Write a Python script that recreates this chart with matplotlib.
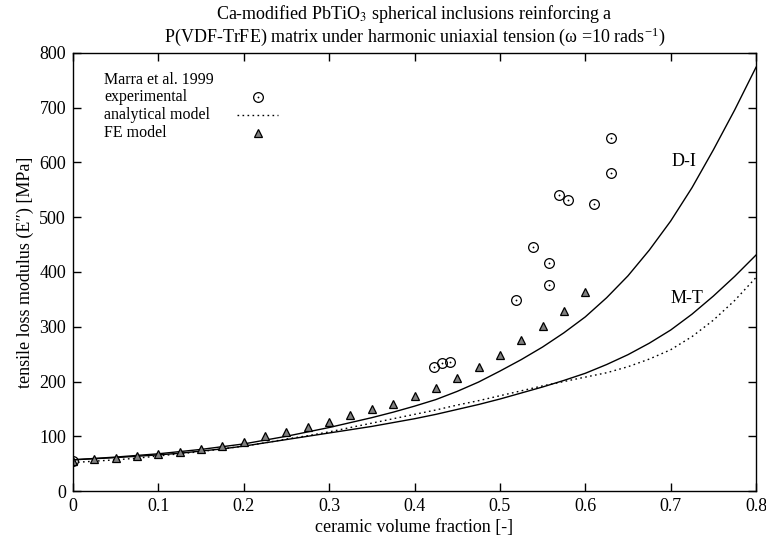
import numpy as np
import matplotlib
matplotlib.use('Agg')
import matplotlib.pyplot as plt

plt.rcParams['font.family'] = ['Liberation Serif', 'DejaVu Serif']
plt.rcParams['mathtext.fontset'] = 'stix'

# experimental points (Marra et al. 1999)
exp_x = [0.0, 0.423, 0.432, 0.441, 0.519, 0.539, 0.558, 0.558, 0.569, 0.580, 0.610, 0.630, 0.630]
exp_y = [55, 226, 234, 236, 348, 446, 416, 376, 541, 531, 524, 644, 580]

# FE model
fe_x = [0.0, 0.025, 0.05, 0.075, 0.1, 0.125, 0.15, 0.175, 0.2, 0.225, 0.25, 0.275,
        0.3, 0.325, 0.35, 0.375, 0.4, 0.425, 0.45, 0.475, 0.5, 0.525, 0.55, 0.575, 0.6]
fe_y = [55, 58, 60, 64, 67, 72, 77, 83, 89, 100, 107, 117,
        126, 138, 149, 159, 173, 188, 206, 227, 248, 275, 301, 328, 363]

# model curves
vf = [0.0, 0.025, 0.05, 0.075, 0.1, 0.125, 0.15, 0.175, 0.2, 0.225, 0.25, 0.275,
      0.3, 0.325, 0.35, 0.375, 0.4, 0.425, 0.45, 0.475, 0.5, 0.525, 0.55, 0.575,
      0.6, 0.625, 0.65, 0.675, 0.7, 0.725, 0.75, 0.775, 0.8]
di_y = [57, 59.5, 62, 65, 68, 72, 76, 81, 86, 93, 100, 108,
        116, 125, 134, 144, 155, 167, 182, 199, 219, 240, 263, 289,
        318, 353, 393, 440, 493, 554, 623, 696, 774]
mt_y = [57, 59, 61, 63.5, 66, 69, 73, 77, 82, 88, 94, 100,
        106, 112, 118, 125, 132, 140, 149, 158, 168, 179, 190, 202,
        215, 231, 249, 270, 294, 323, 356, 392, 431]
an_y = [52, 54.5, 57, 60, 64, 68, 72, 77, 82, 88, 95, 101,
        108, 116, 124, 132, 140, 148, 157, 165, 174, 183, 192, 200,
        208, 216, 227, 241, 258, 282, 312, 348, 390]

xticks = [0, 0.1, 0.2, 0.3, 0.4, 0.5, 0.6, 0.7, 0.8]
xticklabels = ['0', '0.1', '0.2', '0.3', '0.4', '0.5', '0.6', '0.7', '0.8']
yticks = [0, 100, 200, 300, 400, 500, 600, 700, 800]

fig = plt.figure(figsize=(7.66, 5.4), dpi=100)
ax = fig.add_axes([0.0953, 0.0907, 0.8917, 0.8112])

ax.plot(vf, di_y, color='black', lw=1.0)
ax.plot(vf, mt_y, color='black', lw=1.0)
ax.plot(vf, an_y, color='black', lw=1.0, linestyle=(0, (1.2, 2.4)))
ax.plot(fe_x, fe_y, linestyle='none', marker='^', ms=6,
        mfc='0.5', mec='black', mew=0.9)
ax.plot(exp_x, exp_y, linestyle='none', marker='o', ms=7,
        mfc='none', mec='black', mew=0.9)
ax.plot(exp_x, exp_y, linestyle='none', marker='o', ms=1.3,
        mfc='black', mec='black', mew=0)

ax.text(0.7157, 601, 'D-I', fontsize=13, ha='center', va='center')
ax.text(0.719, 351, 'M-T', fontsize=13, ha='center', va='center')

# key, gnuplot style: label on the left, sample on the right
tr = ax.transAxes
lx, sx = 0.0454, 0.2704
ax.text(lx, 0.938, 'Marra et al. 1999', transform=tr, fontsize=11.5, va='center')
ax.text(lx, 0.899, 'experimental', transform=tr, fontsize=11.5, va='center')
ax.plot([sx], [0.899], transform=tr, marker='o', ms=7, mfc='none', mec='black', mew=0.9)
ax.plot([sx], [0.899], transform=tr, marker='o', ms=1.3, mfc='black', mew=0)
ax.text(lx, 0.858, 'analytical model', transform=tr, fontsize=11.5, va='center')
ax.plot([0.2396, 0.3006], [0.858, 0.858], transform=tr, color='black', lw=1.0,
        linestyle=(0, (1.2, 2.4)))
ax.text(lx, 0.817, 'FE model', transform=tr, fontsize=11.5, va='center')
ax.plot([sx], [0.817], transform=tr, marker='^', ms=6, mfc='0.5', mec='black', mew=0.9)

ax.set_xlim(0, 0.8)
ax.set_ylim(0, 800)
ax.set_xticks(xticks)
ax.set_xticklabels(xticklabels)
ax.set_yticks(yticks)
ax.tick_params(direction='in', length=6, width=1, top=True, right=True,
               labelsize=13, pad=5)
for s in ax.spines.values():
    s.set_linewidth(1.0)

ax.set_xlabel('ceramic volume fraction [-]', fontsize=13, labelpad=3)
ax.set_ylabel('tensile loss modulus (E\u2033) [MPa]', fontsize=13, labelpad=4)
ax.set_title('Ca-modified PbTiO$_3$ spherical inclusions reinforcing a\n'
             'P(VDF-TrFE) matrix under harmonic uniaxial tension '
             '(\u03c9 =10 rads$^{\\mathregular{-1}}$)', fontsize=13, pad=8,
             linespacing=1.0)

fig.savefig('out.png', dpi=100)
